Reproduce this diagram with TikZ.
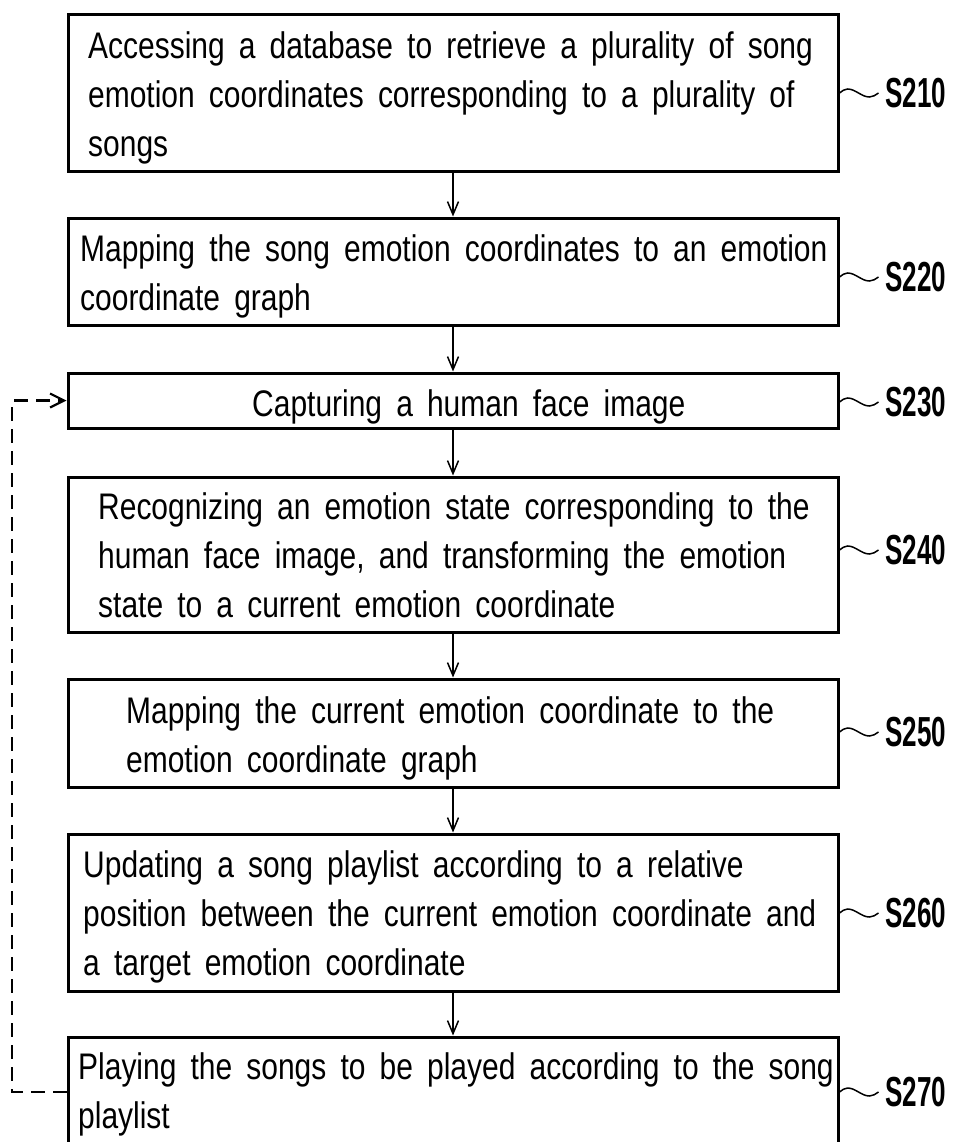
\documentclass[tikz,border=0pt]{standalone}
\usepackage{fontspec}
\setmainfont{Liberation Sans}
\newfontfamily\bodyfont[FakeStretch=0.81,WordSpace=1.7]{Liberation Sans}
\newfontfamily\labfont[FakeStretch=0.62]{Liberation Sans}
\usetikzlibrary{arrows.meta}
\begin{document}
\begin{tikzpicture}[x=1pt,y=-1pt,
  box/.style={draw, line width=3pt, minimum width=770pt, inner sep=0pt},
  txt/.style={inner sep=0pt, align=left, anchor=west, font=\bodyfont\fontsize{37}{49}\selectfont},
  lab/.style={inner sep=0pt, anchor=west, font=\labfont\bfseries\fontsize{42}{48}\selectfont},
  arr/.style={line width=1.5pt, -{Straight Barb[length=13pt,width=11pt]}},
  fb/.style={line width=2.2pt, dash pattern=on 14pt off 8pt, -{Straight Barb[length=14pt,width=14pt]}},
  wave/.style={line width=1.5pt}]
\useasboundingbox (0,0) rectangle (955,1142);
\clip (0,0) rectangle (955,1142);

% boxes
\node[box, minimum height=157pt] (s210) at (453,93.5) {};
\node[box, minimum height=107pt] (s220) at (453,271.5) {};
\node[box, minimum height=55pt]  (s230) at (453,400.5) {};
\node[box, minimum height=155pt] (s240) at (453,554.5) {};
\node[box, minimum height=108pt] (s250) at (453,733) {};
\node[box, minimum height=157pt] (s260) at (453,912.5) {};
\node[box, minimum height=110pt] (s270) at (453,1092) {};

% texts
\node[txt] (t210) at (88,97.8) {Accessing a database to retrieve a plurality of song\\emotion coordinates corresponding to a plurality of\\songs};
\node[txt] (t220) at (80,276.8) {Mapping the song emotion coordinates to an emotion\\coordinate graph};
\node[txt] (t230) at (252,407) {Capturing a human face image};
\node[txt] (t240) at (98,555) {Recognizing an emotion state corresponding to the\\human face image, and transforming the emotion\\state to a current emotion coordinate};
\node[txt] (t250) at (126,738.8) {Mapping the current emotion coordinate to the\\emotion coordinate graph};
\node[txt] (t260) at (83,916.8) {Updating a song playlist according to a relative\\position between the current emotion coordinate and\\a target emotion coordinate};
\node[txt] (t270) at (78,1094) {Playing the songs to be played according to the song\\playlist};

% labels
\node[lab] (l210) at (885,93)   {S210};
\node[lab] (l220) at (885,277)  {S220};
\node[lab] (l230) at (885,402)  {S230};
\node[lab] (l240) at (885,550)  {S240};
\node[lab] (l250) at (885,732)  {S250};
\node[lab] (l260) at (885,913)  {S260};
\node[lab] (l270) at (885,1092) {S270};

% tildes
\foreach \n in {210,220,230,240,250,260,270}{
  \draw[wave] (s\n.east |- l\n.west) sin ++(8,-4) cos ++(11,4) sin ++(11,4) cos ++(9,-4);
}

% arrows
\draw[arr] (s210.south) -- (s220.north);
\draw[arr] (s220.south) -- (s230.north);
\draw[arr] (s230.south) -- (s240.north);
\draw[arr] (s240.south) -- (s250.north);
\draw[arr] (s250.south) -- (s260.north);
\draw[arr] (s260.south) -- (s270.north);

% feedback loop
\coordinate (lp) at (12,1092);
\draw[fb] (s270.west) -- (lp) |- (s230.west);
\end{tikzpicture}
\end{document}
